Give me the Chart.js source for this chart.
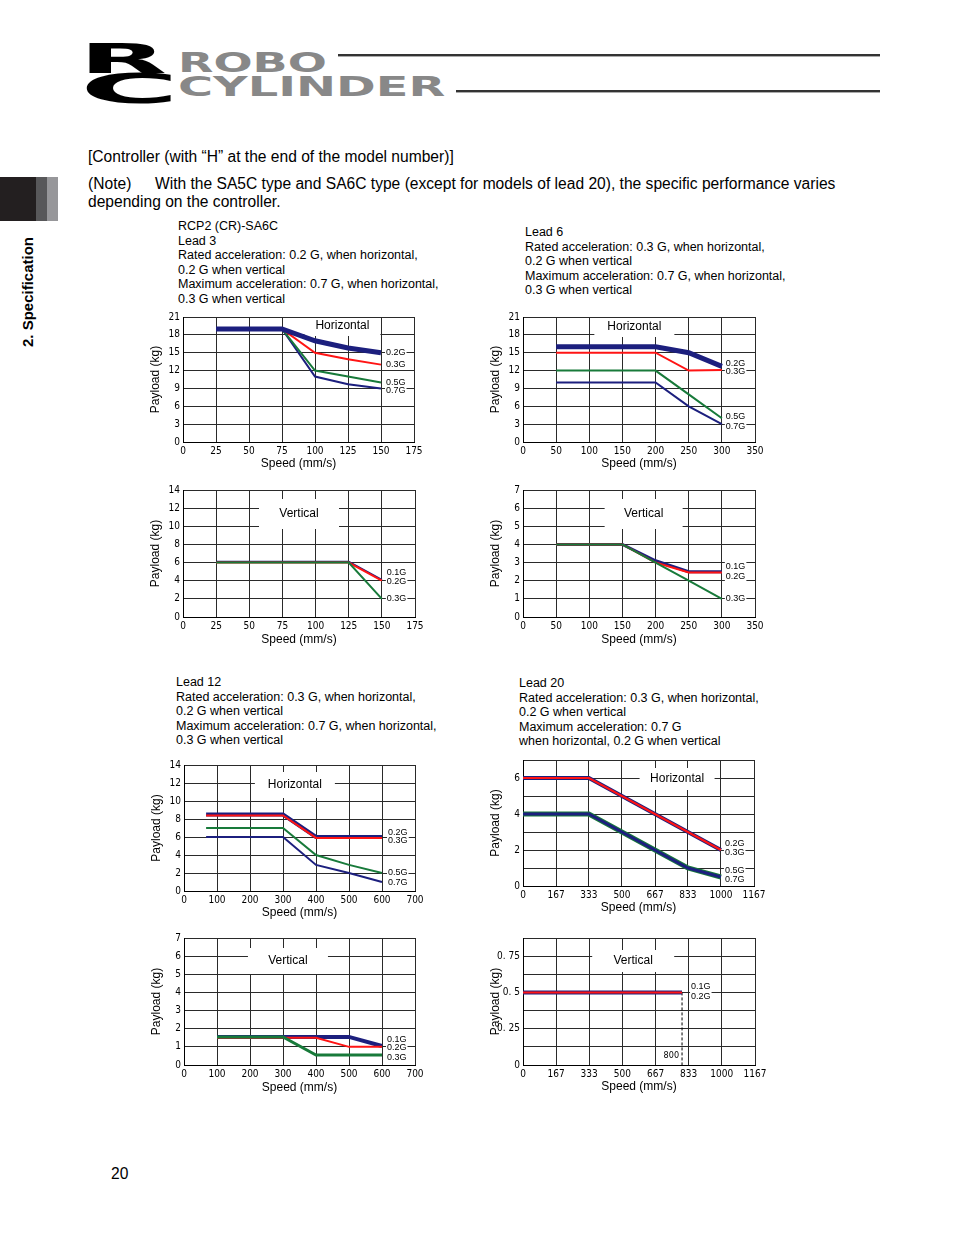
<!DOCTYPE html>
<html>
<head>
<meta charset="utf-8">
<script src="https://cdn.jsdelivr.net/npm/chart.js@4.4.0/dist/chart.umd.min.js"></script>
<style>
  body { margin: 0; width: 954px; height: 1235px; position: relative; background: #fff;
         font-family: "Liberation Sans", Arial, sans-serif; color: #000; overflow: hidden; }
  .abs { position: absolute; white-space: nowrap; }
  .logo { font-family: "DejaVu Sans", sans-serif; font-weight: bold; transform-origin: left top; line-height: 1; }
  .cap { font-size: 12.5px; line-height: 14.5px; }
  .txt { font-size: 15.6px; line-height: 17px; }
  .wrap { position: absolute; }
</style>
</head>
<body>

<!-- header -->
<div class="abs logo" style="left:79px;top:39px;font-size:40px;transform:scale(2.86,1)">R</div>
<div class="abs logo" style="left:80px;top:69px;font-size:40px;transform:scale(3.38,1)">C</div>
<div class="abs logo" style="left:178px;top:50px;font-size:26px;color:#888;transform:scale(1.77,1)">ROBO</div>
<div class="abs logo" style="left:178px;top:74px;font-size:26px;color:#888;transform:scale(1.84,1)">CYLINDER</div>
<div class="abs" style="left:338px;top:54px;width:542px;height:2px;background:#333"></div>
<div class="abs" style="left:338px;top:56px;width:542px;height:1px;background:#aaa"></div>
<div class="abs" style="left:456px;top:90px;width:424px;height:2px;background:#333"></div>
<div class="abs" style="left:456px;top:92px;width:424px;height:1px;background:#aaa"></div>

<!-- side tab -->
<div class="abs" style="left:0;top:177px;width:36px;height:44px;background:#231f20"></div>
<div class="abs" style="left:36px;top:177px;width:11px;height:44px;background:#58585a"></div>
<div class="abs" style="left:47px;top:177px;width:11px;height:44px;background:#97979a"></div>
<div class="abs" style="left:20px;top:347px;font-size:15px;font-weight:bold;line-height:16px;transform-origin:left top;transform:rotate(-90deg)">2. Specification</div>

<!-- text -->
<div class="abs txt" style="left:88px;top:148px">[Controller (with “H” at the end of the model number)]</div>
<div class="abs txt" style="left:88px;top:175px">(Note)</div>
<div class="abs txt" style="left:155px;top:175px">With the SA5C type and SA6C type (except for models of lead 20), the specific performance varies</div>
<div class="abs txt" style="left:88px;top:193px">depending on the controller.</div>

<div class="abs cap" style="left:178px;top:219px">RCP2 (CR)-SA6C<br>Lead 3<br>Rated acceleration: 0.2 G, when horizontal,<br>0.2 G when vertical<br>Maximum acceleration: 0.7 G, when horizontal,<br>0.3 G when vertical</div>
<div class="abs cap" style="left:525px;top:225px">Lead 6<br>Rated acceleration: 0.3 G, when horizontal,<br>0.2 G when vertical<br>Maximum acceleration: 0.7 G, when horizontal,<br>0.3 G when vertical</div>
<div class="abs cap" style="left:176px;top:675px">Lead 12<br>Rated acceleration: 0.3 G, when horizontal,<br>0.2 G when vertical<br>Maximum acceleration: 0.7 G, when horizontal,<br>0.3 G when vertical</div>
<div class="abs cap" style="left:519px;top:676px">Lead 20<br>Rated acceleration: 0.3 G, when horizontal,<br>0.2 G when vertical<br>Maximum acceleration: 0.7 G<br>when horizontal, 0.2 G when vertical</div>

<div class="abs txt" style="left:111px;top:1165px">20</div>

<div class="wrap"><canvas id="c1"></canvas></div>
<div class="wrap"><canvas id="c2"></canvas></div>
<div class="wrap"><canvas id="c3"></canvas></div>
<div class="wrap"><canvas id="c4"></canvas></div>
<div class="wrap"><canvas id="c5"></canvas></div>
<div class="wrap"><canvas id="c6"></canvas></div>
<div class="wrap"><canvas id="c7"></canvas></div>
<div class="wrap"><canvas id="c8"></canvas></div>

<script>
// ---- data ----
// Lead 3
const lead3HSpeed = [25, 75, 100, 125, 150];
const lead3H02 = [19, 19, 17, 15.8, 15];
const lead3H03 = [19, 19, 15, 13.9, 13];
const lead3H05 = [19, 19, 12, 11, 10];
const lead3H07 = [19, 19, 11, 9.7, 9];
const lead3VSpeed = [25, 125, 150];
const lead3V01 = [6.1, 6.1, 4.1];
const lead3V02 = [6, 6, 4];
const lead3V03 = [6, 6, 2];

// Lead 6
const lead6HSpeed = [50, 200, 250, 300];
const lead6H02 = [16, 16, 15, 12.7];
const lead6H03 = [15, 15, 12, 12.1];
const lead6H05 = [12, 12, 8, 4];
const lead6H07 = [10, 10, 6, 3];
const lead6VSpeed = [50, 150, 200, 250, 300];
const lead6V01 = [4, 4, 3.1, 2.5, 2.5];
const lead6V02 = [4, 4, 3, 2.45, 2.45];
const lead6V03 = [4, 4, 3, 2, 1];

// Lead 12
const lead12HSpeed = [67, 300, 400, 500, 600];
const lead12H02 = [8.5, 8.5, 6, 6, 6];
const lead12H03 = [8.4, 8.4, 5.9, 5.9, 5.9];
const lead12H05 = [7, 7, 4, 2.9, 2];
const lead12H07 = [6, 6, 2.9, 2, 1];
const lead12VSpeed = [100, 300, 400, 500, 600];
const lead12V01 = [1.55, 1.55, 1.55, 1.55, 1.05];
const lead12V02 = [1.5, 1.5, 1.5, 1, 1];
const lead12V03 = [1.55, 1.55, 0.55, 0.55, 0.55];

// Lead 20
const lead20HSpeed = [0, 333, 833, 1000];
const lead20H02 = [6, 6, 3, 2];
const lead20H03 = [6, 6, 3, 2];
const lead20H05 = [4, 4, 1, 0.5];
const lead20H07 = [4, 4, 1, 0.5];
const lead20VSpeed = [0, 800];
const lead20V01 = [0.5, 0.5];
const lead20V02 = [0.5, 0.5];
const lead20LimitSpeed = [800, 800];
const lead20LimitLoad = [0.5, 0];

// tick labels
const lead20SpeedTicks = [0, 167, 333, 500, 667, 833, 1000, 1167];
const lead20VLoadTicks = [0, 0.125, 0.25, 0.375, 0.5, 0.625, 0.75, 0.875];
const lead20VLoadLabels = ['0', '', '0. 25', '', '0. 5', '', '0. 75', ''];

const NAVY = '#1c1f7e', RED = '#ff1414', GREEN = '#187a3a';
const SANS = '"Liberation Sans", Arial, sans-serif';
const NARROW = '"Liberation Sans Narrow", "DejaVu Sans Condensed", "Liberation Sans", sans-serif';

// plugin: "Horizontal"/"Vertical" box, G labels at line ends, extra notes
const annotate = {
  id: 'annotate',
  beforeDatasetsDraw(chart, args, opts) {
    const { ctx, chartArea: a } = chart;
    const p = opts.panel;
    if (!p) return;
    const cx = a.left + p.fx * (a.right - a.left);
    const cy = a.top + p.cy;
    const top = Math.max(cy - p.h / 2, a.top + 1);
    ctx.save();
    ctx.fillStyle = '#fff';
    ctx.fillRect(cx - p.w / 2, top, p.w, cy + p.h / 2 - top);
    ctx.fillStyle = '#000';
    ctx.font = '12px ' + SANS;
    ctx.textAlign = 'center';
    ctx.textBaseline = 'middle';
    ctx.fillText(p.text, cx, cy);
    ctx.restore();
  },
  afterDatasetsDraw(chart, args, opts) {
    const { ctx, chartArea: a } = chart;
    ctx.save();
    ctx.font = '9px ' + SANS;
    ctx.textBaseline = 'middle';
    ctx.textAlign = 'left';
    const items = [];
    chart.data.datasets.forEach((ds, i) => {
      if (!ds.label) return;
      const pts = chart.getDatasetMeta(i).data;
      const pt = pts[pts.length - 1];
      items.push({ t: ds.label, x: pt.x + opts.dx, y: pt.y + (ds.labelDy || 0) });
    });
    ctx.fillStyle = '#fff';
    items.forEach(it => ctx.fillRect(it.x - 1, it.y - 5, ctx.measureText(it.t).width + 2, 10));
    ctx.fillStyle = '#000';
    items.forEach(it => ctx.fillText(it.t, it.x, it.y));
    if (opts.note) {
      const x = chart.scales.x.getPixelForValue(opts.note.at);
      ctx.font = '9px ' + NARROW;
      ctx.textAlign = 'right';
      ctx.fillStyle = '#fff';
      const w = ctx.measureText(opts.note.text).width;
      ctx.fillRect(x - 3 - w - 1, a.bottom - 14, w + 2, 10);
      ctx.fillStyle = '#000';
      ctx.fillText(opts.note.text, x - 3, a.bottom - 9);
    }
    ctx.restore();
  }
};

function build(id, spec) {
  const [l, t, r, b] = spec.box;
  const padTop = 12, padRight = 35, yW = 45, xH = 36;
  const cv = document.getElementById(id);
  const W = r - l + yW + padRight, H = b - t + padTop + xH;
  const wrap = cv.parentNode;
  wrap.style.left = (l - yW) + 'px';
  wrap.style.top = (t - padTop) + 'px';
  cv.width = W; cv.height = H;
  cv.style.width = W + 'px'; cv.style.height = H + 'px';

  const tickFont = { family: NARROW, size: 10 };
  const titleFont = { family: SANS, size: 12 };

  new Chart(cv, {
    type: 'line',
    data: {
      datasets: spec.series.map(s => ({
        label: s.label,
        data: (s.speed || spec.speed).map((x, i) => ({ x: x, y: s.data[i] })),
        borderColor: s.color,
        borderWidth: s.width,
        borderDash: s.dash || [],
        pointRadius: 0,
        tension: 0,
        fill: false,
        labelDy: s.dy
      }))
    },
    options: {
      responsive: false,
      animation: false,
      events: [],
      layout: { padding: { top: padTop, right: padRight, left: 0, bottom: 0 } },
      plugins: {
        legend: { display: false },
        tooltip: { enabled: false },
        annotate: { panel: spec.panel, dx: spec.dx, note: spec.note }
      },
      scales: {
        x: {
          type: 'linear',
          min: spec.x.min, max: spec.x.max,
          ticks: {
            stepSize: spec.x.step, autoSkip: false, maxRotation: 0, padding: 3,
            font: tickFont, color: '#000',
            callback: v => spec.x.label ? spec.x.label(v) : v
          },
          afterBuildTicks: spec.x.ticks ? (s => { s.ticks = spec.x.ticks.map(v => ({ value: v })); }) : undefined,
          grid: { color: '#2a2a2a', lineWidth: 1, drawTicks: false },
          border: { color: '#000', width: 1 },
          title: { display: true, text: 'Speed (mm/s)', font: titleFont, color: '#000',
                   padding: { top: 0, bottom: spec.xTitlePad } },
          afterFit: s => { s.height = xH; }
        },
        y: {
          min: spec.y.min, max: spec.y.max,
          ticks: {
            stepSize: spec.y.step, autoSkip: false, padding: 3,
            font: tickFont, color: '#000',
            callback: spec.y.label || (v => v)
          },
          afterBuildTicks: spec.y.ticks ? (s => { s.ticks = spec.y.ticks.map(v => ({ value: v })); }) : undefined,
          grid: { color: '#2a2a2a', lineWidth: 1, drawTicks: false },
          border: { color: '#000', width: 1 },
          title: { display: true, text: 'Payload (kg)', font: titleFont, color: '#000',
                   padding: { top: 10, bottom: 0 } },
          afterFit: s => { s.width = yW; }
        }
      }
    },
    plugins: [annotate]
  });
}

// Lead 3 horizontal
build('c1', {
  box: [183, 317, 414, 442], speed: lead3HSpeed, dx: 5, xTitlePad: 7,
  x: { min: 0, max: 175, step: 25 }, y: { min: 0, max: 21, step: 3 },
  panel: { text: 'Horizontal', fx: 0.69, cy: 9, w: 76, h: 20 },
  series: [
    { label: '0.2G', data: lead3H02, color: NAVY, width: 5, dy: 0 },
    { label: '0.3G', data: lead3H03, color: RED, width: 2, dy: 0 },
    { label: '0.5G', data: lead3H05, color: GREEN, width: 2, dy: 0 },
    { label: '0.7G', data: lead3H07, color: NAVY, width: 2, dy: 2 }
  ]
});

// Lead 6 horizontal
build('c2', {
  box: [523, 317, 755, 442], speed: lead6HSpeed, dx: 4, xTitlePad: 7,
  x: { min: 0, max: 350, step: 50 }, y: { min: 0, max: 21, step: 3 },
  panel: { text: 'Horizontal', fx: 0.48, cy: 10, w: 80, h: 20 },
  series: [
    { label: '0.2G', data: lead6H02, color: NAVY, width: 5, dy: -3 },
    { label: '0.3G', data: lead6H03, color: RED, width: 2, dy: 2 },
    { label: '0.5G', data: lead6H05, color: GREEN, width: 2, dy: -2 },
    { label: '0.7G', data: lead6H07, color: NAVY, width: 2, dy: 2 }
  ]
});

// Lead 3 vertical
build('c3', {
  box: [183, 490, 415, 617], speed: lead3VSpeed, dx: 5, xTitlePad: 6,
  x: { min: 0, max: 175, step: 25 }, y: { min: 0, max: 14, step: 2 },
  panel: { text: 'Vertical', fx: 0.50, cy: 24, w: 80, h: 30 },
  series: [
    { label: '0.3G', data: lead3V03, color: GREEN, width: 2, dy: 0 },
    { label: '0.2G', data: lead3V02, color: RED, width: 2, dy: 1 },
    { label: '0.1G', data: lead3V01, color: NAVY, width: 2, dy: -7 }
  ]
});

// Lead 6 vertical
build('c4', {
  box: [523, 490, 755, 617], speed: lead6VSpeed, dx: 4, xTitlePad: 6,
  x: { min: 0, max: 350, step: 50 }, y: { min: 0, max: 7, step: 1 },
  panel: { text: 'Vertical', fx: 0.52, cy: 24, w: 78, h: 30 },
  series: [
    { label: '0.3G', data: lead6V03, color: GREEN, width: 2, dy: 0 },
    { label: '0.2G', data: lead6V02, color: RED, width: 2, dy: 4 },
    { label: '0.1G', data: lead6V01, color: NAVY, width: 3, dy: -5 }
  ]
});

// Lead 12 horizontal
build('c5', {
  box: [184, 765, 415, 891], speed: lead12HSpeed, dx: 6, xTitlePad: 7,
  x: { min: 0, max: 700, step: 100 }, y: { min: 0, max: 14, step: 2 },
  panel: { text: 'Horizontal', fx: 0.48, cy: 20, w: 80, h: 26 },
  series: [
    { label: '0.3G', data: lead12H03, color: RED, width: 2, dy: 3 },
    { label: '0.2G', data: lead12H02, color: NAVY, width: 4, dy: -4 },
    { label: '0.5G', data: lead12H05, color: GREEN, width: 2, dy: 0 },
    { label: '0.7G', data: lead12H07, color: NAVY, width: 2, dy: 1 }
  ]
});

// Lead 20 horizontal
build('c6', {
  box: [523, 760, 754, 886], speed: lead20HSpeed, dx: 4, xTitlePad: 7,
  x: { min: 0, max: 1167, ticks: lead20SpeedTicks },
  y: { min: 0, max: 7, step: 1, label: v => (v % 2 === 0 ? v : '') },
  panel: { text: 'Horizontal', fx: 0.667, cy: 19, w: 75, h: 22 },
  series: [
    { label: '0.3G', data: lead20H03, color: RED, width: 2, dy: 3 },
    { label: '0.2G', data: lead20H02, color: NAVY, width: 4, dy: -6 },
    { label: '0.7G', data: lead20H07, color: NAVY, width: 3, dy: 3 },
    { label: '0.5G', data: lead20H05, color: GREEN, width: 5, dy: -6 }
  ]
});

// Lead 12 vertical
build('c7', {
  box: [184, 938, 415, 1065], speed: lead12VSpeed, dx: 5, xTitlePad: 6,
  x: { min: 0, max: 700, step: 100 }, y: { min: 0, max: 7, step: 1 },
  panel: { text: 'Vertical', fx: 0.45, cy: 23, w: 80, h: 26 },
  series: [
    { label: '0.3G', data: lead12V03, color: GREEN, width: 3, dy: 2 },
    { label: '0.2G', data: lead12V02, color: RED, width: 2, dy: 1 },
    { label: '0.1G', data: lead12V01, color: NAVY, width: 4, dy: -6 }
  ]
});

// Lead 20 vertical
build('c8', {
  box: [523, 938, 755, 1065], speed: lead20VSpeed, dx: 9, xTitlePad: 7,
  x: { min: 0, max: 1167, ticks: lead20SpeedTicks },
  y: { min: 0, max: 0.875, ticks: lead20VLoadTicks,
       label: (v, i) => lead20VLoadLabels[i] },
  panel: { text: 'Vertical', fx: 0.475, cy: 23, w: 82, h: 22 },
  note: { text: '800', at: 800 },
  series: [
    { label: '0.2G', data: lead20V02, color: RED, width: 2, dy: 4 },
    { label: '0.1G', data: lead20V01, color: NAVY, width: 4, dy: -6 },
    { label: '', speed: lead20LimitSpeed, data: lead20LimitLoad, color: '#000', width: 1, dash: [3, 2] }
  ]
});
</script>
</body>
</html>
